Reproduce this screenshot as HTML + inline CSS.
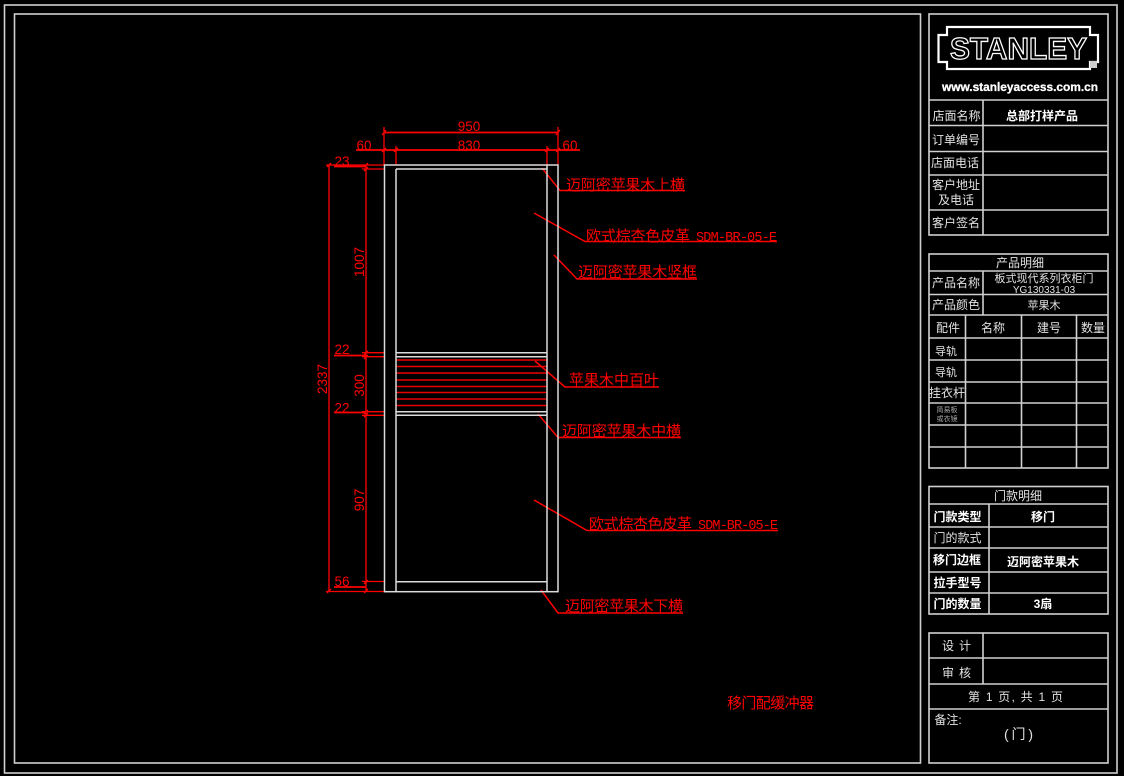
<!DOCTYPE html>
<html><head><meta charset="utf-8"><style>
html,body{margin:0;padding:0;background:#000;width:1124px;height:776px;overflow:hidden}
svg{display:block}
text{font-family:"Liberation Sans","Noto Sans CJK SC",sans-serif}
.w{fill:#e2e2e2;font-size:12px;text-anchor:middle}
.b{fill:#fff;font-size:12px;text-anchor:middle;font-weight:bold}
.r{fill:#f00;font-size:15px}
.m{fill:#f00;font-size:13.500px;font-family:"Liberation Mono",monospace}
.d{fill:#f00;font-size:13.500px;text-anchor:middle}
</style></head><body>
<svg width="1124" height="776" viewBox="0 0 1124 776" xmlns="http://www.w3.org/2000/svg">
<rect width="1124" height="776" fill="#000"/>
<!-- frames -->
<g fill="none" stroke="#d0d0d0" stroke-width="1.600">
<rect x="4.500" y="5" width="1112.500" height="768"/>
<rect x="14.500" y="14" width="906" height="749"/>
<rect x="929" y="14" width="179" height="221"/>
<rect x="929" y="254" width="179" height="214"/>
<rect x="929" y="486.500" width="179" height="127.500"/>
<rect x="929" y="633" width="179" height="130"/>
<path d="M929 100H1108M929 125.500H1108M929 151.500H1108M929 175H1108M929 210H1108M983 100V235"/>
<path d="M929 271H1108M929 294.500H1108M929 315H1108M929 338H1108M929 360H1108M929 382H1108M929 403H1108M929 425H1108M929 447H1108M983 271V315M965.500 315V468M1021.500 315V468M1076.500 315V468"/>
<path d="M929 504H1108M929 527H1108M929 548H1108M929 572H1108M929 593H1108M989 504V614"/>
<path d="M929 658H1108M929 684H1108M929 709H1108M983 633V684"/>
</g>
<!-- logo -->
<path d="M947 27H1090V35H1098V62H1090V69H947V62H938.500V35H947Z" fill="none" stroke="#fff" stroke-width="2.200"/>
<text x="950" y="59" textLength="137" lengthAdjust="spacingAndGlyphs" style="font-size:31px;font-weight:bold;fill:#000;stroke:#fff;stroke-width:1.300">STANLEY</text>
<rect x="1090" y="61" width="7" height="7" fill="#ccc"/>
<text x="942" y="91" textLength="156" lengthAdjust="spacingAndGlyphs" style="font-size:12px;font-weight:bold;fill:#fff;stroke:#fff;stroke-width:.3">www.stanleyaccess.com.cn</text>
<!-- table 1 -->
<text class="w" x="956.500" y="120">店面名称</text>
<text class="w" x="956" y="144">订单编号</text>
<text class="w" x="955" y="167">店面电话</text>
<text class="w" x="956" y="189">客户地址</text>
<text class="w" x="956" y="204">及电话</text>
<text class="w" x="956" y="227">客户签名</text>
<text class="b" x="1042" y="120">总部打样产品</text>
<!-- table 2 -->
<text class="w" x="1020" y="267">产品明细</text>
<text class="w" x="956" y="287">产品名称</text>
<text class="w" x="956" y="309">产品颜色</text>
<text class="w" x="1044" y="282" style="font-size:11px">板式现代系列衣柜门</text>
<text class="w" x="1044" y="293" style="font-size:10px">YG130331-03</text>
<text class="w" x="1044" y="309" style="font-size:11px">苹果木</text>
<text class="w" x="948" y="332">配件</text>
<text class="w" x="993" y="332">名称</text>
<text class="w" x="1049" y="332">建号</text>
<text class="w" x="1093" y="332">数量</text>
<text class="w" x="946" y="355" style="font-size:11px">导轨</text>
<text class="w" x="946" y="376" style="font-size:11px">导轨</text>
<text class="w" x="947" y="397">挂衣杆</text>
<text class="w" x="947" y="412" style="font-size:7px;fill:#aaa">简易板</text>
<text class="w" x="947" y="421" style="font-size:7px;fill:#aaa">或衣镜</text>
<!-- table 3 -->
<text class="w" x="1018" y="500">门款明细</text>
<text class="b" x="957.500" y="521">门款类型</text>
<text class="w" x="957.500" y="542">门的款式</text>
<text class="b" x="957" y="564">移门边框</text>
<text class="b" x="957.500" y="587">拉手型号</text>
<text class="b" x="957.500" y="608">门的数量</text>
<text class="b" x="1043" y="521">移门</text>
<text class="b" x="1043" y="566">迈阿密苹果木</text>
<text class="b" x="1043" y="608">3扇</text>
<!-- table 4 -->
<text class="w" x="942" y="650" style="text-anchor:start" textLength="29">设 计</text>
<text class="w" x="942" y="677" style="text-anchor:start" textLength="29">审 核</text>
<text class="w" x="968" y="701" style="text-anchor:start" textLength="95">第 1 页, 共 1 页</text>
<text class="w" x="948" y="724">备注:</text>
<text class="w" x="1004" y="739" style="font-size:14px;text-anchor:start" textLength="29">(门)</text>
<!-- louver -->
<g stroke="#e80000" stroke-width="1.400">
<path d="M396 360H547M396 366.500H547M396 373H547M396 380H547M396 386.500H547M396 392.500H547M396 399H547M396 405.500H547"/>
</g>
<!-- dims -->
<g stroke="#f00" stroke-width="1.300" fill="none">
<path d="M384 127V165M558 127V165M396 146V165M547 146V165"/>
<path d="M329 165V591.500M366 165V591.500"/>
<path d="M326 165H384M362 169H384"/>
<path d="M362 352.700H385M362 356.700H385M362 411.700H385M362 415.300H385"/>
<path d="M362 581.500H385M326 591.500H384"/>
<path d="M382 135L386 130M556 135L560 130M382 152L386 148M394 152L398 148M545 152L549 148M556 152L560 148"/>
<path d="M327 167L331 163M364 167L368 163M364 171L368 167M364 355L368 351M364 359L368 355M364 414L368 410M364 417L368 413M364 584L368 580M364 593L368 589M327 593L331 589"/>
</g>
<g stroke="#f00" stroke-width="1.800" fill="none">
<path d="M384 132.500H558M356 150H580"/>
<path d="M334 166.500H366M334 355.500H366M334 412.500H366M334 587H366"/>
</g>
<g stroke="#f00" stroke-width="1.500" fill="none">
<path d="M542 168L560 190.500H685"/>
<path d="M534 213L585 241.500H777"/>
<path d="M554 255L577 279H697"/>
<path d="M535 361L565 387H659"/>
<path d="M538 414L558 437.500H681"/>
<path d="M534 500L587 530.500H778"/>
<path d="M541 590L558 613H683"/>
</g>
<!-- door -->
<g stroke="#dcdcdc" stroke-width="1.500" fill="none">
<rect x="384.500" y="165" width="173.500" height="426.700"/>
<path d="M396 169V591.700M547 165V591.700M396 169H547M396 581.700H547"/>
<path d="M396 352.700H547M396 356.700H547M396 411.700H547M396 415.300H547"/>
</g>
<!-- dim text -->
<text class="d" x="469" y="131">950</text>
<text class="d" x="469" y="150">830</text>
<text class="d" x="364" y="150">60</text>
<text class="d" x="570" y="150">60</text>
<text class="d" x="342" y="166">23</text>
<text class="d" x="342" y="354">22</text>
<text class="d" x="342" y="412.500">22</text>
<text class="d" x="342" y="586">56</text>
<text class="d" transform="translate(327,379) rotate(-90)">2337</text>
<text class="d" transform="translate(364,262) rotate(-90)">1007</text>
<text class="d" transform="translate(364,385.500) rotate(-90)">300</text>
<text class="d" transform="translate(364,500) rotate(-90)">907</text>
<!-- labels -->
<text class="r" x="566" y="190" textLength="119">迈阿密苹果木上横</text>
<text class="r" x="586" y="241" textLength="104">欧式棕杏色皮革</text>
<text class="m" x="696" y="241" textLength="81">SDM-BR-05-E</text>
<text class="r" x="578" y="277" textLength="119">迈阿密苹果木竖框</text>
<text class="r" x="569" y="385" textLength="90">苹果木中百叶</text>
<text class="r" x="562" y="436" textLength="119">迈阿密苹果木中横</text>
<text class="r" x="589" y="529" textLength="103">欧式棕杏色皮革</text>
<text class="m" x="698" y="529" textLength="80">SDM-BR-05-E</text>
<text class="r" x="565" y="611" textLength="118">迈阿密苹果木下横</text>
<text class="r" x="727" y="708" textLength="87">移门配缓冲器</text>
</svg>
</body></html>
